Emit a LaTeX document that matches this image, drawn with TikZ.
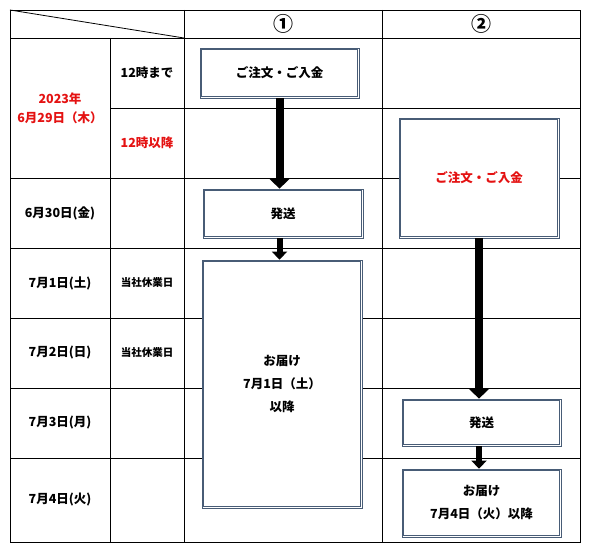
\documentclass[tikz,border=0pt]{standalone}
\usepackage{fontspec}
\setmainfont{Noto Sans CJK JP}
\usetikzlibrary{arrows.meta}
\definecolor{datered}{RGB}{228,18,18}
\definecolor{framecol}{RGB}{72,92,118}
\tikzset{
  flowbox/.style={draw=framecol, fill=white, line width=0.7pt,
    align=center, inner sep=0pt, font=\bfseries\fontsize{12.5}{23}\selectfont},
  innerframe/.style={draw=framecol, line width=0.7pt},
  bigarrow/.style={line width=8pt, -{Triangle[width=20pt,length=10pt]}},
  smallarrow/.style={line width=6pt, -{Triangle[width=15pt,length=8pt]}},
  celltext/.style={font=\bfseries\fontsize{12.5}{19}\selectfont, align=center},
  smalltext/.style={font=\bfseries\fontsize{10.5}{12}\selectfont},
  gridline/.style={line width=0.8pt}
}
\begin{document}
\begin{tikzpicture}[x=1pt, y=-1pt]
    \useasboundingbox (0,0) rectangle (591,553);

    % Table frame and rules
    \draw[gridline] (10,10) rectangle (580,542);
    \draw[gridline] (10,10) -- (184,38);
    \draw[gridline] (10,38) -- (580,38);
    \draw[gridline] (110,108) -- (580,108);
    \draw[gridline] (10,178) -- (580,178);
    \draw[gridline] (10,248) -- (580,248);
    \draw[gridline] (10,318) -- (580,318);
    \draw[gridline] (10,388) -- (580,388);
    \draw[gridline] (10,458) -- (580,458);
    \draw[gridline] (110,38) -- (110,542);
    \draw[gridline] (184,10) -- (184,542);
    \draw[gridline] (382,10) -- (382,542);

    % Column headers
    \node[font=\bfseries\fontsize{20}{20}\selectfont] (headone) at (283,24) {①};
    \node[font=\bfseries\fontsize{20}{20}\selectfont] (headtwo) at (481,24) {②};

    % Dates
    \node[celltext, text=datered] (d629) at (60,108) {2023年\\6月29日（木）};
    \node[celltext] (noon) at (147,73) {12時まで};
    \node[celltext, text=datered] (afternoon) at (147,143) {12時以降};
    \node[celltext] (d630) at (60,213) {6月30日(金)};
    \node[celltext] (d701) at (60,283) {7月1日(土)};
    \node[smalltext] (off701) at (147,283) {当社休業日};
    \node[celltext] (d702) at (60,353) {7月2日(日)};
    \node[smalltext] (off702) at (147,353) {当社休業日};
    \node[celltext] (d703) at (60,423) {7月3日(月)};
    \node[celltext] (d704) at (60,500) {7月4日(火)};

    % Case 1: order before noon
    \node[flowbox, minimum width=159, minimum height=50] (orderone) at (279.5,73) {ご注文・ご入金};
    \node[flowbox, minimum width=160, minimum height=49] (shipone) at (283,213.5) {発送};
    \node[flowbox, minimum width=160, minimum height=248] (deliverone) at (282,384) {お届け\\7月1日（土）\\以降};

    % Case 2: order after noon
    \node[flowbox, minimum width=160, minimum height=120, text=datered] (ordertwo) at (479,178) {ご注文・ご入金};
    \node[flowbox, minimum width=159, minimum height=47] (shiptwo) at (481.5,422.5) {発送};
    \node[flowbox, minimum width=159, minimum height=68] (delivertwo) at (481.5,503) {お届け\\7月4日（火）以降};

    % double frame look
    \foreach \step in {orderone, shipone, deliverone, ordertwo, shiptwo, delivertwo}
      \draw[innerframe] ([xshift=1.8pt,yshift=-1.8pt]\step.north west) rectangle ([xshift=-1.8pt,yshift=1.8pt]\step.south east);

    % Flow arrows
    \draw[bigarrow] (orderone.south) -- (orderone.south |- shipone.north);
    \draw[smallarrow] (shipone.south -| orderone.south) -- (orderone.south |- deliverone.north);
    \draw[bigarrow] (ordertwo.south) -- (ordertwo.south |- shiptwo.north);
    \draw[smallarrow] (shiptwo.south -| ordertwo.south) -- (ordertwo.south |- delivertwo.north);
\end{tikzpicture}
\end{document}
